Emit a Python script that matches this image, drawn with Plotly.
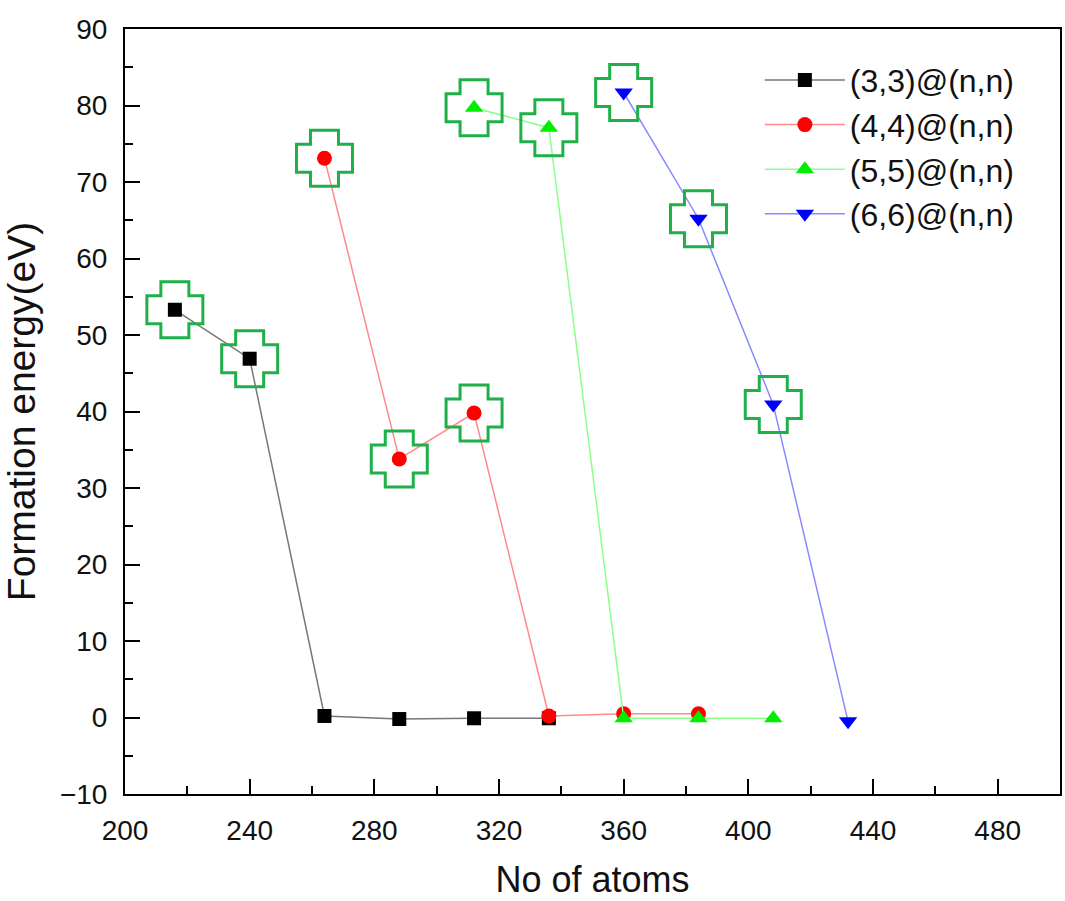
import plotly.graph_objects as go

# ---- data ----
x33 = [216, 240, 264, 288, 312, 336]
y33 = [53.3, 46.9, 0.2, -0.2, -0.1, -0.1]
x44 = [264, 288, 312, 336, 360, 384]
y44 = [73.1, 33.8, 39.8, 0.2, 0.5, 0.5]
x55 = [312, 336, 360, 384, 408]
y55 = [79.7, 77.1, -0.1, -0.1, -0.1]
x66 = [360, 384, 408, 432]
y66 = [81.7, 65.2, 40.9, -0.5]

names = ["(3,3)@(n,n)", "(4,4)@(n,n)", "(5,5)@(n,n)", "(6,6)@(n,n)"]
xtick_vals = [200, 240, 280, 320, 360, 400, 440, 480]
ytick_vals = [-10, 0, 10, 20, 30, 40, 50, 60, 70, 80, 90]

series = [
    (x33, y33, names[0], "#000000", "#777777", "square", 14),
    (x44, y44, names[1], "#ff0000", "#ff8a8a", "circle", 15),
    (x55, y55, names[2], "#00ee00", "#8aff8a", "triangle-up", 16),
    (x66, y66, names[3], "#0000ff", "#8a8aff", "triangle-down", 16),
]

fig = go.Figure()
for xs, ys, nm, mc, lc, sym, sz in series:
    fig.add_trace(go.Scatter(
        x=xs, y=ys, name=nm, mode="lines+markers",
        line=dict(color=lc, width=1.5),
        marker=dict(symbol=sym, size=sz, color=mc, line=dict(width=0)),
    ))

# green cross outlines around highlighted (non-zero) points
cross_path = "M-14,28 H14 V14 H28 V-14 H14 V-28 H-14 V-14 H-28 V14 H-14 Z"
shapes = []
for xs, ys, *_ in series:
    for xv, yv in zip(xs, ys):
        if yv > 1:
            shapes.append(dict(
                type="path", xref="x", yref="y",
                xsizemode="pixel", ysizemode="pixel",
                xanchor=xv, yanchor=yv, path=cross_path,
                line=dict(color="#1fb04a", width=3),
                fillcolor="rgba(0,0,0,0)", layer="above",
            ))

font_family = "Liberation Sans, Arial, sans-serif"
axis_common = dict(
    showline=True, linecolor="black", linewidth=2, mirror=True,
    ticks="inside", ticklen=15, tickwidth=2, tickcolor="black",
    showgrid=False, zeroline=False,
    tickfont=dict(family=font_family, size=28, color="#111"),
)

fig.update_layout(
    width=1065, height=901,
    margin=dict(l=125, r=3, t=29, b=107),
    paper_bgcolor="white", plot_bgcolor="white",
    shapes=shapes,
    xaxis=dict(
        range=[200, 500], tickvals=xtick_vals, ticklabelstandoff=10,
        minor=dict(dtick=20, tick0=200, ticks="inside", ticklen=8, tickwidth=2, tickcolor="black"),
        title=dict(text="No of atoms", font=dict(family=font_family, size=36, color="#111"), standoff=22),
        **axis_common,
    ),
    yaxis=dict(
        range=[-10, 90], tickvals=ytick_vals, ticklabelstandoff=10,
        minor=dict(dtick=5, tick0=-10, ticks="inside", ticklen=8, tickwidth=2, tickcolor="black"),
        title=dict(text="Formation energy(eV)", font=dict(family=font_family, size=39, color="#111"), standoff=12),
        **axis_common,
    ),
    legend=dict(
        x=0.679, y=0.969, xanchor="left", yanchor="top",
        font=dict(family=font_family, size=32, color="#111"),
        bgcolor="rgba(0,0,0,0)", itemwidth=80, tracegroupgap=0,
    ),
    showlegend=True,
)

fig.write_html("out.html")
